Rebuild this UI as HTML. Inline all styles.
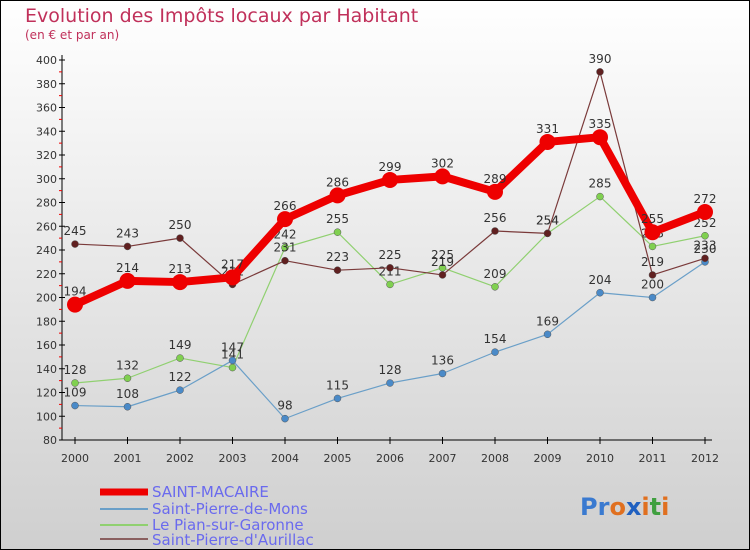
<!DOCTYPE html>
<html><head><meta charset="utf-8"><style>
body{margin:0;}
#c{width:750px;height:550px;position:relative;overflow:hidden;font-family:"DejaVu Sans","Liberation Sans",sans-serif;}
</style></head><body>
<div id="c">
<svg id="s" width="750" height="550" xmlns="http://www.w3.org/2000/svg">
<defs><linearGradient id="bg" x1="0" y1="0" x2="0" y2="1">
<stop offset="0" stop-color="#ffffff"/><stop offset="1" stop-color="#cfcfcf"/></linearGradient></defs>
<rect x="0.5" y="0.5" width="749" height="549" fill="url(#bg)" stroke="#000"/>
<text x="25" y="22" font-size="19" fill="#c0305a">Evolution des Impôts locaux par Habitant</text>
<text x="25" y="39" font-size="12" fill="#c0305a">(en € et par an)</text>
<g id="axes"></g><g id="series"></g>
<g font-size="15" fill="#6a6aee">
<line x1="100" y1="492" x2="148" y2="492" stroke="#e00" stroke-width="7"/>
<text x="152" y="497">SAINT-MACAIRE</text>
<line x1="100" y1="509" x2="148" y2="509" stroke="#6a9fc8" stroke-width="2"/>
<text x="152" y="514">Saint-Pierre-de-Mons</text>
<line x1="100" y1="525" x2="148" y2="525" stroke="#90d070" stroke-width="2"/>
<text x="152" y="530">Le Pian-sur-Garonne</text>
<line x1="100" y1="539" x2="148" y2="539" stroke="#8a6060" stroke-width="2"/>
<text x="152" y="545">Saint-Pierre-d'Aurillac</text>
</g>
<text x="580" y="515" font-size="24" font-weight="bold"><tspan fill="#3a7ad0">Pr</tspan><tspan fill="#e07020">o</tspan><tspan fill="#2060c0">x</tspan><tspan fill="#e07020">i</tspan><tspan fill="#40a040">t</tspan><tspan fill="#e07020">i</tspan></text>
</svg>
</div>
<script>
const years=[2000,2001,2002,2003,2004,2005,2006,2007,2008,2009,2010,2011,2012];
const yTicks=[80,100,120,140,160,180,200,220,240,260,280,300,320,340,360,380,400];
const macaire=[194,214,213,217,266,286,299,302,289,331,335,255,272];
const mons=[109,108,122,147,98,115,128,136,154,169,204,200,230];
const pian=[128,132,149,141,242,255,211,225,209,254,285,243,252];
const aurillac=[245,243,250,211,231,223,225,219,256,254,390,219,233];
const NS="http://www.w3.org/2000/svg";
function X(i){return 75+i*52.5;}
function Y(v){return 440-(v-80)*1.1875;}
function mk(t,a,p){const e=document.createElementNS(NS,t);for(const k in a)e.setAttribute(k,a[k]);p.appendChild(e);return e;}
const ax=document.getElementById('axes');
let l=mk('line',{x1:62,y1:55,x2:62,y2:440,stroke:'#000'},ax);


l=mk('line',{x1:62,y1:440,x2:712,y2:440,stroke:'#000'},ax);


yTicks.forEach(v=>{
 mk('line',{x1:59,y1:Y(v),x2:65,y2:Y(v),stroke:'#000'},ax);
 if(v<400) mk('line',{x1:59,y1:Y(v+10),x2:62,y2:Y(v+10),stroke:'#e00'},ax);
 const t=mk('text',{x:57,y:Y(v)+4,'font-size':11,'text-anchor':'end',fill:'#333'},ax);t.textContent=v;
 
 
});
years.forEach((yr,i)=>{
 mk('line',{x1:X(i),y1:437,x2:X(i),y2:444,stroke:'#000'},ax);
 const t=mk('text',{x:X(i),y:462,'font-size':11,'text-anchor':'middle',fill:'#333'},ax);t.textContent=yr;
 
 
});
const sg=document.getElementById('series');
function series(data,color,w,r,name,dot){
 const g=mk('g',{},sg);
 
 
 const p=mk('polyline',{points:data.map((v,i)=>X(i)+','+Y(v)).join(' '),fill:'none',stroke:color,'stroke-width':w,'stroke-linejoin':'round'},g);
 
 
 data.forEach((v,i)=>{
  const c=mk('circle',{cx:X(i),cy:Y(v),r:r,fill:dot,stroke:color==='#e00'?'none':'#555','stroke-width':0.5},g);
  
  
  const t=mk('text',{x:X(i),y:Y(v)-9,'font-size':12,'text-anchor':'middle',fill:'#333'},g);t.textContent=v;
  
  
 });
}
series(pian,'#90d070',1.2,3.5,'le-pian','#80d050');
series(mons,'#6a9fc8',1.2,3.5,'saint-pierre-de-mons','#4a8ac8');
series(aurillac,'#7a3a3a',1.2,3.5,'saint-pierre-d-aurillac','#602020');
series(macaire,'#e00',8,8,'saint-macaire','#e00');
</script>
</body></html>
